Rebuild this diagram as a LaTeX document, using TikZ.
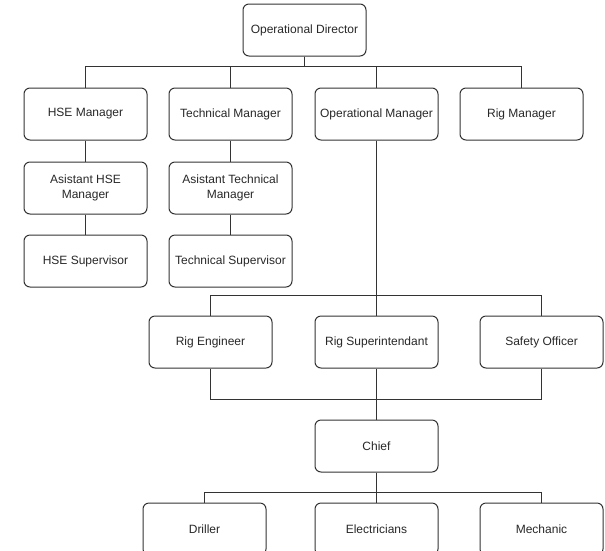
\documentclass[tikz,border=0pt]{standalone}
\usepackage{fontspec}
\setmainfont{Liberation Sans}
\usepackage{tikz}
\usetikzlibrary{
  positioning,
  calc
}
\definecolor{LineGray}{RGB}{51,51,51}
\definecolor{TextGray}{RGB}{40,40,40}
\tikzset{
  posbox/.style={draw=LineGray,fill=white,line width=1pt,rounded corners=6pt,minimum width=123pt,minimum height=52pt,align=center,text=TextGray,font=\fontsize{12pt}{15pt}\selectfont},
  orgline/.style={draw=LineGray,line width=1pt}
}

\begin{document}
\begin{tikzpicture}[x=1pt,y=-1pt]
\path[use as bounding box] (0,0) rectangle (605,550);

\node[posbox] (dir) at (304.5,30) {Operational Director};

% managers
\node[posbox, below=31pt of dir, xshift=72pt] (opm) {Operational Manager};
\node[posbox, left=22pt of opm] (tech) {Technical Manager};
\node[posbox, left=21pt of tech] (hse) {HSE Manager};
\node[posbox, right=21pt of opm] (rigm) {Rig Manager};

\node[posbox, below=21pt of hse] (ahse) {Asistant HSE\\Manager};
\node[posbox, below=20pt of ahse] (hsesup) {HSE Supervisor};
\node[posbox, below=21pt of tech] (atech) {Asistant Technical\\Manager};
\node[posbox, below=20pt of atech] (techsup) {Technical Supervisor};

% rig level
\node[posbox, below=175pt of opm] (rigsup) {Rig Superintendant};
\node[posbox, left=42pt of rigsup] (rigeng) {Rig Engineer};
\node[posbox, right=41pt of rigsup] (safety) {Safety Officer};

\node[posbox, below=51pt of rigsup] (chief) {Chief};
\node[posbox, below=30pt of chief] (elec) {Electricians};
\node[posbox, left=48pt of elec] (driller) {Driller};
\node[posbox, right=41pt of elec] (mech) {Mechanic};

\foreach \n in {hse,tech,opm,rigm}
  \draw[orgline] (dir.south) -- ++(0,10) -| (\n.north);
\draw[orgline] (hse) -- (ahse);
\draw[orgline] (ahse) -- (hsesup);
\draw[orgline] (tech) -- (atech);
\draw[orgline] (atech) -- (techsup);

\draw[orgline] (opm.south) -- (rigsup.north);
\draw[orgline] (opm.south) -- ++(0,155) -| (rigeng.north);
\draw[orgline] (opm.south) -- ++(0,155) -| (safety.north);

\draw[orgline] (rigsup.south) -- (chief.north);
\draw[orgline] (rigeng.south) -- ++(0,31) -| (chief.north);
\draw[orgline] (safety.south) -- ++(0,31) -| (chief.north);

\foreach \n in {driller,elec,mech}
  \draw[orgline] (chief.south) -- ++(0,20) -| (\n.north);
\end{tikzpicture}
\end{document}
